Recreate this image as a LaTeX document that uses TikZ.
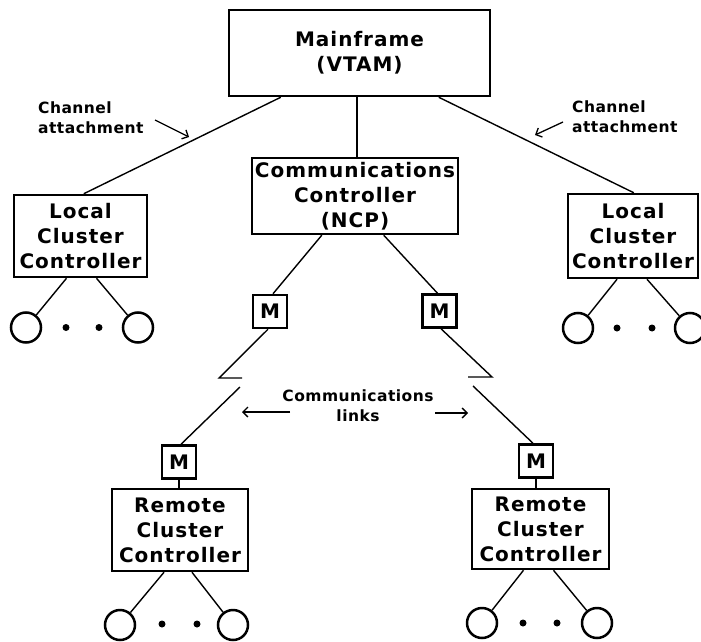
\documentclass[tikz,border=0pt]{standalone}
\usepackage{fontspec}
\setmainfont{DejaVu Sans}
\newfontfamily\boxfont{DejaVu Sans Bold}[LetterSpace=5]
\newfontfamily\lblfont{DejaVu Sans Bold}[LetterSpace=3]
\usetikzlibrary{arrows.meta}
\tikzset{
  box/.style={draw, line width=2.5pt, inner sep=0pt, align=center, font=\boxfont\fontsize{20}{25}\selectfont},
  modem/.style={draw, line width=2.5pt, minimum width=34pt, minimum height=33pt, inner sep=0pt, font=\boxfont\fontsize{20}{25}\selectfont},
  term/.style={circle, draw, line width=2.5pt, minimum size=30pt, inner sep=0pt},
  tdot/.style={circle, fill, minimum size=7pt, inner sep=0pt},
  link/.style={line width=1.4pt},
  lbl/.style={font=\lblfont\fontsize{15.5}{20}\selectfont, align=left, inner sep=0pt},
  arr/.style={line width=1.3pt, -{Straight Barb[length=5pt,width=10pt]}}
}
\begin{document}
\begin{tikzpicture}[x=1pt,y=-1pt]
\useasboundingbox (0,0) rectangle (701,642);
\clip (0,0) rectangle (701,642);

% boxes
\node[box, minimum width=261pt, minimum height=86pt] (main) at (359.5,53) {Mainframe\\(VTAM)};
\node[box, minimum width=206pt, minimum height=76pt] (ncp) at (355,196) {Communications\\Controller\\(NCP)};
\node[box, minimum width=133pt, minimum height=82pt] (lccL) at (80.5,236) {Local\\Cluster\\Controller};
\node[box, minimum width=130pt, minimum height=84pt] (lccR) at (633,236) {Local\\Cluster\\Controller};
\node[modem] (m1) at (270,311.5) {M};
\node[modem] (m2) at (439.5,311) {M};
\node[modem] (m3) at (179,462) {M};
\node[modem] (m4) at (536,461) {M};
\node[box, minimum width=136pt, minimum height=82pt] (rccL) at (180,530) {Remote\\Cluster\\Controller};
\node[box, minimum width=137pt, minimum height=80pt] (rccR) at (540.5,529) {Remote\\Cluster\\Controller};

% mainframe connections
\draw[link] ([xshift=53pt]main.south west) -- ([xshift=71pt]lccL.north west);
\draw[link] ([xshift=2pt]ncp.north |- main.south) -- ([xshift=2pt]ncp.north);
\draw[link] ([xshift=211pt]main.south west) -- ([xshift=67pt]lccR.north west);

% NCP to modems
\draw[link] ([xshift=71pt]ncp.south west) -- ([xshift=3pt]m1.north);
\draw[link] ([xshift=133pt]ncp.south west) -- ([xshift=-2pt]m2.north);

% communications links (broken)
\coordinate (z1) at (219,378);
\coordinate (z2) at (242,378);
\coordinate (z3) at (240,387);
\draw[link] ([xshift=-2pt]m1.south) -- (z1) -- (z2);
\draw[link] (z3) -- ([xshift=2pt]m3.north);
\coordinate (z4) at (492,377);
\coordinate (z5) at (468,377);
\coordinate (z6) at (473,386);
\draw[link] ([xshift=1.5pt]m2.south) -- (z4) -- (z5);
\draw[link] (z6) -- ([xshift=-3pt]m4.north);

% modem to remote controllers
\draw[link] (m3.south) -- (m3.south |- rccL.north);
\draw[link] (m4.south) -- (m4.south |- rccR.north);

% terminals
\node[term] (t1) at (26,327.5) {};
\node[term] (t2) at (138,327.5) {};
\node[tdot] (d1) at (66,327.5) {};
\node[tdot] (d2) at (99,327.5) {};
\draw[link] ([xshift=-14pt]lccL.south) -- (t1);
\draw[link] ([xshift=16pt]lccL.south) -- (t2);

\node[term] (t3) at (578,328) {};
\node[term] (t4) at (690,328) {};
\node[tdot] (d3) at (617,328) {};
\node[tdot] (d4) at (652,328) {};
\draw[link] ([xshift=-16pt]lccR.south) -- (t3);
\draw[link] ([xshift=14pt]lccR.south) -- (t4);

\node[term] (t5) at (120,625) {};
\node[term] (t6) at (233,625) {};
\node[tdot] (d5) at (162,624) {};
\node[tdot] (d6) at (197,624) {};
\draw[link] ([xshift=-16pt]rccL.south) -- (t5);
\draw[link] ([xshift=12pt]rccL.south) -- (t6);

\node[term] (t7) at (482,623) {};
\node[term] (t8) at (597,623) {};
\node[tdot] (d7) at (523,623) {};
\node[tdot] (d8) at (557,623) {};
\draw[link] ([xshift=-17pt]rccR.south) -- (t7);
\draw[link] ([xshift=13pt]rccR.south) -- (t8);

% labels
\node[lbl, anchor=west] (chL) at (38,118) {Channel\\attachment};
\coordinate (aL1) at (155,120);
\coordinate (aL2) at (189,137);
\draw[arr] (aL1) -- (aL2);
\node[lbl, anchor=west] (chR) at (572,117) {Channel\\attachment};
\coordinate (aR1) at (563,122);
\coordinate (aR2) at (535,135);
\draw[arr] (aR1) -- (aR2);
\node[lbl, align=center] (cl) at (358,406) {Communications\\links};
\coordinate (c1) at (290,412);
\coordinate (c2) at (242,412);
\coordinate (c3) at (435,413);
\coordinate (c4) at (468,413);
\draw[arr] (c1) -- (c2);
\draw[arr] (c3) -- (c4);
\end{tikzpicture}
\end{document}
